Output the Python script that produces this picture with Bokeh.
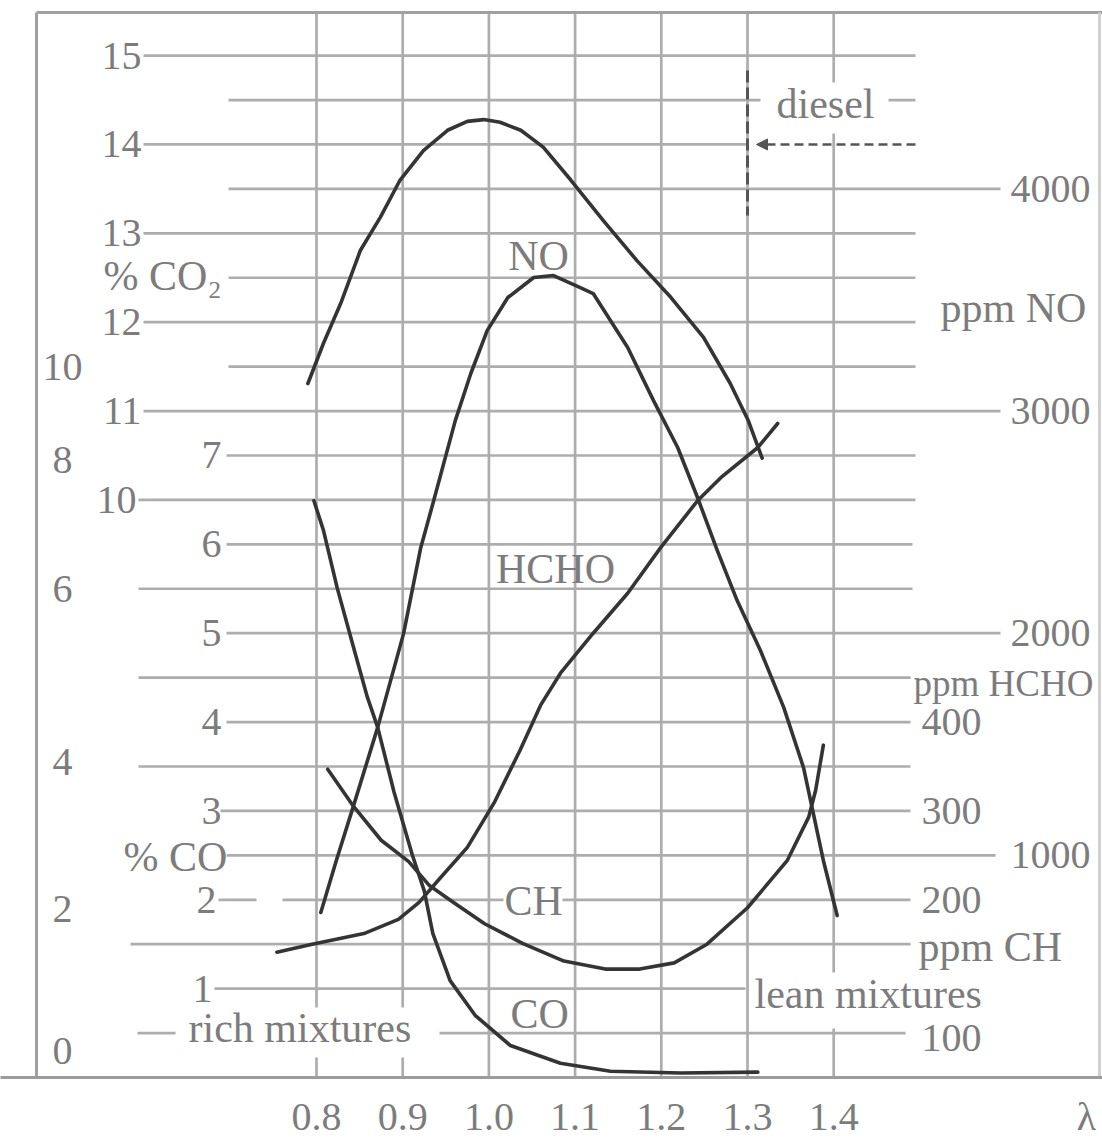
import numpy as np
from bokeh.plotting import figure
from bokeh.models import Range1d, FixedTicker, Arrow, NormalHead
from bokeh.core.properties import value
from bokeh.embed import file_html
from bokeh.resources import INLINE

# ---------------- data ----------------
lam_ticks = [0.8, 0.9, 1.0, 1.1, 1.2, 1.3, 1.4]
lam_tick_labels = ["0.8", "0.9", "1.0", "1.1", "1.2", "1.3", "1.4"]
lam_axis_name = "\u03bb"

# % CO2
lam_co2 = [0.790, 0.808, 0.828, 0.851, 0.874, 0.897, 0.924, 0.952, 0.975, 0.994,
           1.013, 1.037, 1.063, 1.095, 1.133, 1.172, 1.211, 1.249, 1.280, 1.301, 1.317]
co2_pct = [11.31, 11.76, 12.21, 12.81, 13.18, 13.60, 13.93, 14.16, 14.26, 14.28,
           14.25, 14.16, 13.97, 13.60, 13.14, 12.69, 12.28, 11.83, 11.31, 10.89, 10.47]

# ppm NO
lam_no = [0.805, 0.823, 0.843, 0.871, 0.901, 0.921, 0.936, 0.961, 0.979, 0.998,
          1.022, 1.052, 1.075, 1.106, 1.121, 1.161, 1.191, 1.219, 1.242, 1.265,
          1.288, 1.315, 1.342, 1.365, 1.388, 1.404]
no_ppm = [743, 977, 1224, 1576, 1998, 2386, 2597, 2957, 3169, 3362,
          3511, 3601, 3610, 3556, 3529, 3286, 3047, 2836, 2611, 2372,
          2147, 1922, 1666, 1395, 977, 729]

# % CO
lam_co = [0.797, 0.808, 0.824, 0.843, 0.859, 0.871, 0.890, 0.911, 0.925, 0.935,
          0.955, 0.984, 1.025, 1.083, 1.141, 1.222, 1.312]
co_pct = [6.49, 6.16, 5.51, 4.84, 4.28, 3.94, 3.21, 2.51, 2.10, 1.62,
          1.09, 0.70, 0.36, 0.16, 0.07, 0.05, 0.06]

# ppm CH
lam_ch = [0.813, 0.843, 0.875, 0.907, 0.931, 0.959, 0.995, 1.039, 1.087, 1.135,
          1.175, 1.215, 1.253, 1.300, 1.346, 1.371, 1.379, 1.388]
ch_ppm = [347, 305, 267, 243, 216, 197, 173, 151, 131, 122,
          122, 129, 150, 191, 244, 293, 323, 374]

# ppm HCHO
lam_hcho = [0.754, 0.795, 0.855, 0.895, 0.919, 0.943, 0.975, 1.006, 1.036, 1.060,
            1.083, 1.121, 1.161, 1.199, 1.242, 1.269, 1.312, 1.335]
hcho_ppm = [141, 150, 162, 178, 197, 224, 259, 309, 368, 419,
            455, 500, 545, 596, 649, 675, 709, 736]

# scale tick labels
co2_ticks = [15, 14, 13, 12, 11, 10]
co_ticks = [7, 6, 5, 4, 3, 2, 1]
no_ticks = [4000, 3000, 2000, 1000]
ppm_small_ticks = ["400", "300", "200", "100"]
ppm_small_rows = [8, 6, 4, 0.88]
outer_ticks = ["10", "8", "6", "4", "2", "0"]
outer_rows = [16.0, 13.9, 11.0, 7.1, 3.8, 0.6]

# ---------------- scales -> common grid rows ----------------
def co2_row(v): return 2 * np.asarray(v, float) - 7
def co_row(v): return 2 * np.asarray(v, float)
def no_row(v): return np.asarray(v, float) / 200.0
def ppm_row(v): return np.asarray(v, float) / 50.0

# ---------------- layout helpers (screen px -> data) ----------------
PX0, PXU = 316.0, 862.0
ROWPX, AXIS_Y = 44.43, 1077.0
W, H = 1102, 1143
def lx(px): return 0.8 + (px - PX0) / PXU
def ry(py): return (AXIS_Y - py) / ROWPX

FONT = "Liberation Serif"
TXT = "#7c7c7c"
GRID = "#adadad"
CURVE = "#343434"
FS = "40px"
FSW = "42px"

p = figure(width=W, height=H, x_range=Range1d(lx(0), lx(W)), y_range=Range1d(0, ry(0)),
           output_backend="svg", toolbar_location=None, y_axis_location=None,
           min_border_left=0, min_border_right=0, min_border_top=0,
           min_border_bottom=int(H - AXIS_Y))
p.xgrid.visible = False
p.ygrid.visible = False
p.outline_line_color = None
p.background_fill_color = "white"
p.border_fill_color = "white"

lam_name_pos = lx(1086)
ax = p.xaxis[0]
ax.ticker = FixedTicker(ticks=lam_ticks + [lam_name_pos])
overrides = {t: s for t, s in zip(lam_ticks, lam_tick_labels)}
overrides[lam_name_pos] = lam_axis_name
ax.major_label_overrides = overrides
ax.axis_line_color = "#9c9c9c"
ax.axis_line_width = 3
ax.major_tick_line_color = None
ax.minor_tick_line_color = None
ax.major_tick_in = 0
ax.major_tick_out = 0
ax.major_label_standoff = 16
ax.major_label_text_font = FONT
ax.major_label_text_font_size = FS
ax.major_label_text_color = TXT

# ---------------- horizontal rule lines ----------------
hsegs = [
    (23, 143, 915), (22, 228, 760), (22, 888, 915), (21, 143, 748),
    (20, 228, 1000), (19, 143, 915), (18, 228, 915), (17, 143, 915),
    (16, 228, 915), (15, 143, 1000), (14, 226, 915), (13, 138, 915),
    (12, 226, 912), (11, 138, 912), (10, 226, 1000), (9, 138, 910),
    (8, 226, 910), (7, 138, 910), (6, 220, 910), (5, 226, 995),
    (4, 218, 256), (4, 282, 503), (4, 562, 910), (3, 130, 910),
    (2, 214, 745), (1, 137, 175), (1, 439, 905),
]
p.segment(x0=[lx(a) for _, a, _ in hsegs], y0=[r for r, _, _ in hsegs],
          x1=[lx(b) for _, _, b in hsegs], y1=[r for r, _, _ in hsegs],
          line_color=GRID, line_width=2.7)

# ---------------- vertical rule lines ----------------
top = ry(12)
vsegs = []
for t in lam_ticks:
    if t in (0.8, 0.9):
        vsegs += [(t, top, ry(1007)), (t, ry(1057), 0)]
    elif t == 1.4:
        vsegs += [(t, top, ry(82)), (t, ry(133), ry(972)), (t, ry(1028), 0)]
    else:
        vsegs += [(t, top, 0)]
p.segment(x0=[s[0] for s in vsegs], y0=[s[1] for s in vsegs],
          x1=[s[0] for s in vsegs], y1=[s[2] for s in vsegs],
          line_color=GRID, line_width=2.7)

# frame borders
p.segment(x0=[lx(36), lx(36), lx(1099)], y0=[top, top, top],
          x1=[lx(W), lx(36), lx(1099)], y1=[top, 0, 0],
          line_color=["#a0a0a0", "#a0a0a0", "#d0d0d0"], line_width=3)

# diesel marker
p.line([1.3, 1.3], [ry(70), ry(215)], line_color="#555555", line_width=3, line_dash="12 5")
p.add_layout(Arrow(end=NormalHead(size=11, fill_color="#555555", line_color="#555555"),
                   x_start=lx(915), y_start=21, x_end=lx(756), y_end=21,
                   line_color="#555555", line_width=2.5, line_dash="9 5"))

# ---------------- curves ----------------
for lam, rows in [(lam_co2, co2_row(co2_pct)), (lam_no, no_row(no_ppm)),
                  (lam_co, co_row(co_pct)), (lam_ch, ppm_row(ch_ppm)),
                  (lam_hcho, ppm_row(hcho_ppm))]:
    p.line(lam, list(rows), line_color=CURVE, line_width=3.6,
           line_join="round", line_cap="round")

# ---------------- texts ----------------
def txt(xs, ys, ss, align="left", size=FS):
    p.text(x=list(xs), y=list(ys), text=list(ss), text_align=align, text_baseline="middle",
           text_font=value(FONT), text_font_size=size, text_color=TXT)

txt([lx(141)] * 5 + [lx(136)], list(co2_row(co2_ticks)), [str(v) for v in co2_ticks], "right")
txt([lx(221)] * 5 + [lx(216), lx(212)], list(co_row(co_ticks)), [str(v) for v in co_ticks], "right")
txt([lx(62)] * len(outer_ticks), outer_rows, outer_ticks, "center")
txt([lx(1010)] * len(no_ticks), list(no_row(no_ticks)), [str(v) for v in no_ticks], "left")
txt([lx(921)] * len(ppm_small_ticks), ppm_small_rows, ppm_small_ticks, "left")

labels = [
    (103, 275, "% CO\u2082", "left", FSW), (123, 856, "% CO", "left", FSW),
    (940, 307, "ppm NO", "left", FSW), (913, 683, "ppm HCHO", "left", "37px"),
    (918, 946, "ppm CH", "left", FSW), (754, 993, "lean mixtures", "left", FSW),
    (188, 1027, "rich mixtures", "left", FSW), (776, 103, "diesel", "left", FSW),
    (538, 255, "NO", "center", FSW), (555, 568, "HCHO", "center", FSW),
    (504, 900, "CH", "left", FSW), (510, 1013, "CO", "left", FSW),
]
for x, y, s, a, fs in labels:
    txt([lx(x)], [ry(y)], [s], a, fs)

open("out.html", "w").write(file_html(p, INLINE))
